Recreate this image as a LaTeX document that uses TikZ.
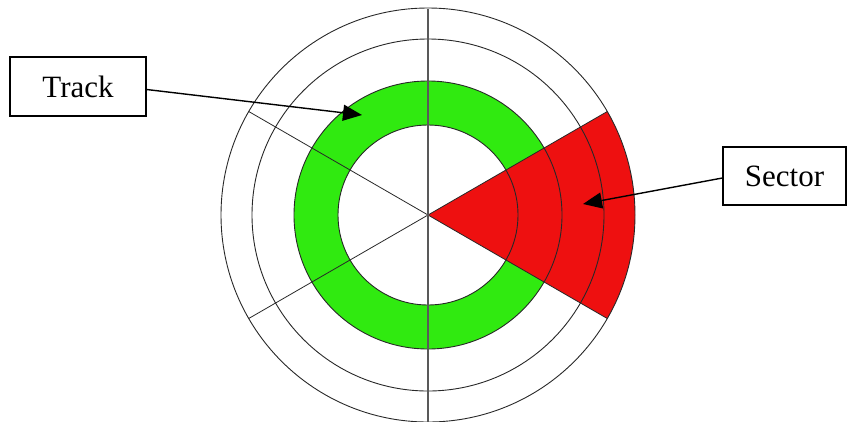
\documentclass[tikz,border=0pt]{standalone}
\usepackage{fontspec}
\setmainfont{Liberation Serif}
\usetikzlibrary{arrows.meta}
\definecolor{trackgreen}{RGB}{48,234,16}
\definecolor{sectorred}{RGB}{238,16,16}
\definecolor{ringline}{RGB}{40,40,40}
\begin{document}
\begin{tikzpicture}[x=1pt,y=-1pt,
  ring/.style={draw=ringline,line width=0.9pt},
  spoke/.style={draw=ringline,line width=0.8pt},
  labelbox/.style={draw=black,line width=1.3pt,fill=white,inner sep=0pt,
    font=\fontsize{31}{36}\selectfont},
  pointer/.style={draw=black,line width=1.4pt,-{Triangle[length=19pt,width=16pt]}}]
\useasboundingbox (0,0) rectangle (848,421);
\coordinate (c) at (428,215);
% track ring
\fill[trackgreen,even odd rule] (c) circle (134) (c) circle (90);
% sector
\fill[sectorred] (c) -- ++(-30:207) arc[start angle=-30,end angle=30,radius=207] -- cycle;
% circles
\draw[ring] (c) circle (207);
\draw[ring] (c) circle (176);
\draw[ring] (c) circle (134);
\draw[ring] (c) circle (90);
% spokes
\draw[spoke] (c) -- ++(150:207);
\draw[spoke] (c) -- ++(210:207);
\draw[spoke] (c) -- ++(30:207);
\draw[spoke] (c) -- ++(-30:207);
\coordinate (vtop) at (428,9);
\coordinate (vbot) at (428,425);
\draw[draw=black!65,line width=1.2pt] (vtop) -- (vbot);
% labels
\node[labelbox,minimum width=136pt,minimum height=59pt] (track) at (78,86.5) {Track};
\node[labelbox,minimum width=123pt,minimum height=58pt] (sector) at (784.5,176) {Sector};
\coordinate (tracktip) at (362,115);
\coordinate (sectortip) at (583,204);
\draw[pointer] ([yshift=-3pt]track.east) -- (tracktip);
\draw[pointer] ([yshift=-2pt]sector.west) -- (sectortip);
\end{tikzpicture}
\end{document}
